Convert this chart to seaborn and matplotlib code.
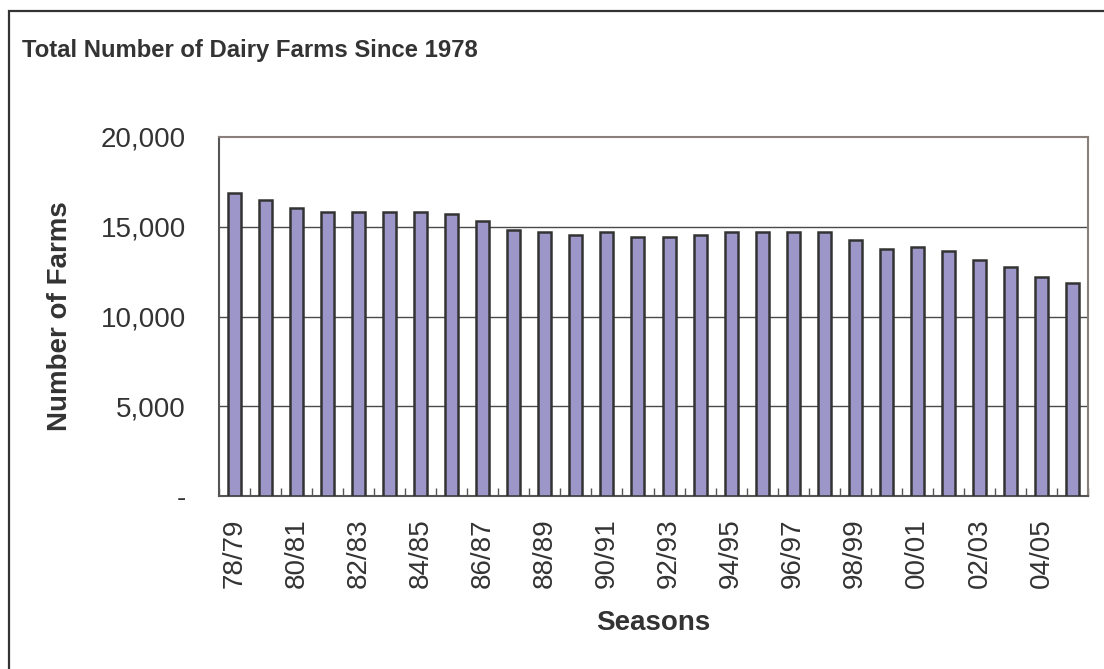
import numpy as np
import pandas as pd
import seaborn as sns
import matplotlib.pyplot as plt
from matplotlib.ticker import FuncFormatter
from matplotlib.patches import Rectangle

seasons = ['78/79', '79/80', '80/81', '81/82', '82/83', '83/84', '84/85', '85/86',
           '86/87', '87/88', '88/89', '89/90', '90/91', '91/92', '92/93', '93/94',
           '94/95', '95/96', '96/97', '97/98', '98/99', '99/00', '00/01', '01/02',
           '02/03', '03/04', '04/05', '05/06']
farms = [16870, 16480, 16070, 15830, 15830, 15830, 15830, 15700,
         15310, 14800, 14690, 14540, 14690, 14410, 14410, 14550,
         14690, 14690, 14690, 14690, 14280, 13760, 13890, 13650,
         13130, 12740, 12220, 11850]

df = pd.DataFrame({'Season': seasons, 'Farms': farms})

sns.set_style('white')
plt.rcParams['font.family'] = ['Liberation Sans', 'DejaVu Sans']
text_col = '#333333'

fig = plt.figure(figsize=(11.04, 6.69), dpi=100)
ax = fig.add_axes([219 / 1104, 1 - 496 / 669, 869 / 1104, 359 / 669])

sns.barplot(data=df, x='Season', y='Farms', color='#9d97c9', saturation=1,
            edgecolor='#333333', linewidth=1.8, width=0.42, ax=ax, zorder=3)

ax.set_ylim(0, 20000)
ax.set_xlim(-0.5, len(seasons) - 0.5)
ax.set_yticks([0, 5000, 10000, 15000, 20000])
ax.yaxis.set_major_formatter(FuncFormatter(lambda v, p: '-' if v == 0 else f'{v:,.0f}'))
for yv in [5000, 10000, 15000]:
    ax.axhline(yv, color='#4a4a4a', lw=1.0, zorder=1)

ax.set_xticks(range(len(seasons)))
ax.set_xticklabels([s if i % 2 == 0 else '' for i, s in enumerate(seasons)], rotation=90)
ax.set_xticks(np.arange(-0.5, len(seasons), 1), minor=True)
ax.tick_params(axis='x', which='major', length=0, pad=16, labelsize=20, labelcolor=text_col)
ax.tick_params(axis='x', which='minor', direction='in', length=6, width=1, color='#555555', bottom=True)
ax.tick_params(axis='y', length=0, pad=24, labelsize=20, labelcolor=text_col)

for side in ['top', 'right']:
    ax.spines[side].set_color('#8a7f7b')
for side in ['left', 'bottom']:
    ax.spines[side].set_color('#555555')
for s in ax.spines.values():
    s.set_linewidth(1.5)

ax.set_xlabel('Seasons', fontsize=20, fontweight='bold', color=text_col)
ax.set_ylabel('Number of Farms', fontsize=20, fontweight='bold', color=text_col)
ax.xaxis.set_label_coords(0.5, -0.318)
ax.yaxis.set_label_coords(-0.168, 0.5)

fig.text(22 / 1104, 1 - 51 / 669, 'Total Number of Dairy Farms Since 1978',
         fontsize=17.2, fontweight='bold', color=text_col, ha='left', va='center')

fig.patches.append(Rectangle((9 / 1104, -0.1), 1.2, 1.1 - 11.5 / 669, transform=fig.transFigure,
                             fill=False, edgecolor='#333333', linewidth=1.6))

fig.savefig('out.png', dpi=100)
